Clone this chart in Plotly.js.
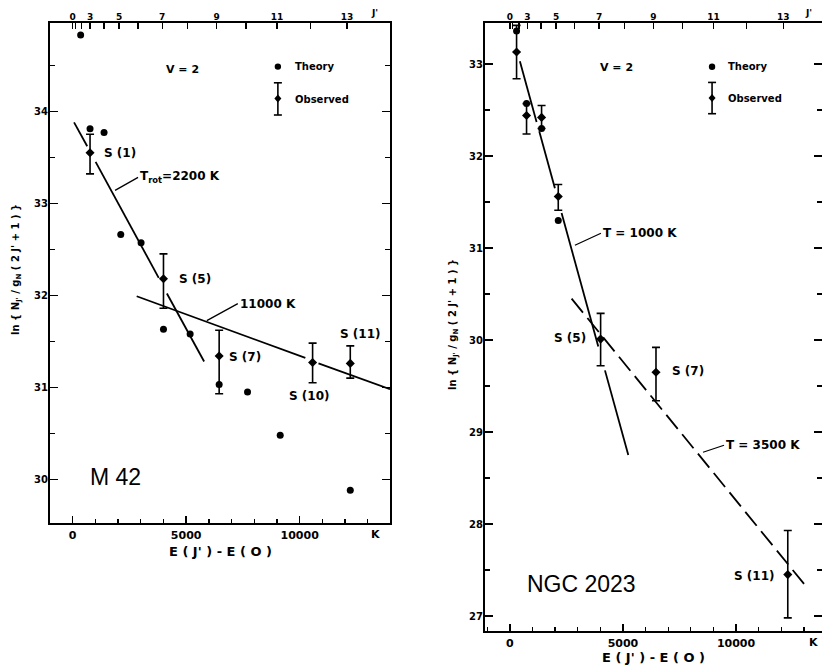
<!DOCTYPE html>
<html>
<head>
<meta charset="utf-8">
<script src="https://cdn.plot.ly/plotly-3.0.1.min.js"></script>
<style>html,body{margin:0;padding:0;background:#fff;}#chart{width:822px;height:666px;}</style>
</head>
<body>
<div id="chart"></div>
<script>
// ---------- M 42 (left panel) ----------
const m42TheoryE  = [350, 764, 1382, 2117, 3013, 4000, 5174, 6453, 7703, 9143, 12230];
const m42TheoryLn = [34.83, 33.81, 33.77, 32.66, 32.57, 31.63, 31.58, 31.03, 30.95, 30.48, 29.88];
const m42ObsE     = [764, 4000, 6453, 10570, 12230];
const m42ObsLn    = [33.55, 32.18, 31.34, 31.27, 31.26];
const m42ObsHi    = [33.75, 32.45, 31.62, 31.48, 31.45];
const m42ObsLo    = [33.32, 31.86, 30.93, 31.05, 31.10];
const m42ObsNames = ['S (1)', 'S (5)', 'S (7)', 'S (10)', 'S (11)'];
const m42Fit2200E  = [60, 640, null, 1010, 3790, null, 4150, 5790];
const m42Fit2200Ln = [33.88, 33.62, null, 33.45, 32.19, null, 32.02, 31.28];
const m42Fit11000E  = [2820, 10250, null, 10830, 13980];
const m42Fit11000Ln = [31.99, 31.32, null, 31.26, 30.98];

// ---------- NGC 2023 (right panel) ----------
const ngcTheoryE  = [296, 737, 1401, 2139];
const ngcTheoryLn = [33.36, 32.57, 32.30, 31.30];
const ngcObsE     = [296, 737, 1401, 2139, 4012, 6460, 12287];
const ngcObsLn    = [33.13, 32.44, 32.42, 31.56, 30.01, 29.65, 27.45];
const ngcObsHi    = [33.42, 32.57, 32.55, 31.69, 30.29, 29.92, 27.93];
const ngcObsLo    = [32.84, 32.24, 32.30, 31.41, 29.72, 29.34, 26.98];
const ngcFit1000E  = [442, 1180, null, 1298, 1991, null, 2286, 3909, null, 4204, 5236];
const ngcFit1000Ln = [33.03, 32.37, null, 32.27, 31.65, null, 31.38, 29.93, null, 29.67, 28.75];
const ngcFit3500E  = [2729, 13201];
const ngcFit3500Ln = [30.45, 27.29];

// ---------- top axis: J' levels ----------
const jLevels = [0, 1, 2, 3, 4, 5, 6, 7, 8, 9, 10, 11, 12, 13];
const jEnergy = [0, 120, 400, 770, 1380, 2040, 2870, 3945, 5060, 6345, 7635, 9000, 10470, 12090];
const jLabelled = [0, 3, 5, 7, 9, 11, 13];
const jText = jLevels.map(j => jLabelled.includes(j) ? String(j) : '');

const F = 'DejaVu Sans';
const BF = (s) => ({family: F, size: s, color: '#000', weight: 'bold'});
const W = 822, H = 666;

function errs(lo, y, hi) {
  return {type: 'data', symmetric: false,
    array: hi.map((h, i) => +(h - y[i]).toFixed(3)),
    arrayminus: lo.map((l, i) => +(y[i] - l).toFixed(3)),
    color: '#000', thickness: 1.6, width: 4};
}
// empty helper traces so that the overlaid tick axes get drawn
function holder(xs, xa, ya) {
  return {x: xs, y: xs.map(() => null), xaxis: xa, yaxis: ya, mode: 'markers', hoverinfo: 'skip', showlegend: false};
}

const traces = [
  {x: m42Fit2200E, y: m42Fit2200Ln, xaxis: 'x', yaxis: 'y', mode: 'lines', line: {color: '#000', width: 1.8}, connectgaps: false, hoverinfo: 'skip'},
  {x: m42Fit11000E, y: m42Fit11000Ln, xaxis: 'x', yaxis: 'y', mode: 'lines', line: {color: '#000', width: 1.8}, connectgaps: false, hoverinfo: 'skip'},
  {x: m42ObsE, y: m42ObsLn, xaxis: 'x', yaxis: 'y', mode: 'markers', marker: {symbol: 'diamond', size: 7, color: '#000'}, error_y: errs(m42ObsLo, m42ObsLn, m42ObsHi), text: m42ObsNames},
  {x: m42TheoryE, y: m42TheoryLn, xaxis: 'x', yaxis: 'y', mode: 'markers', marker: {symbol: 'circle', size: 7, color: '#000'}},

  {x: ngcFit1000E, y: ngcFit1000Ln, xaxis: 'x2', yaxis: 'y2', mode: 'lines', line: {color: '#000', width: 1.8}, connectgaps: false, hoverinfo: 'skip'},
  {x: ngcFit3500E, y: ngcFit3500Ln, xaxis: 'x2', yaxis: 'y2', mode: 'lines', line: {color: '#000', width: 1.8, dash: '18px,7px'}, hoverinfo: 'skip'},
  {x: ngcObsE, y: ngcObsLn, xaxis: 'x2', yaxis: 'y2', mode: 'markers', marker: {symbol: 'diamond', size: 7, color: '#000'}, error_y: errs(ngcObsLo, ngcObsLn, ngcObsHi)},
  {x: ngcTheoryE, y: ngcTheoryLn, xaxis: 'x2', yaxis: 'y2', mode: 'markers', marker: {symbol: 'circle', size: 7, color: '#000'}},

  holder(jEnergy, 'x3', 'y'), holder(jEnergy, 'x4', 'y2'),
  holder(m42ObsE, 'x5', 'y'), holder(ngcObsE, 'x6', 'y2'),
  holder(m42ObsE, 'x', 'y3'), holder(ngcObsE, 'x2', 'y4'),
];

const L = {l: 50, r: 390, t: 23, b: 523, x0: -1000, x1: 13980, y0: 29.525, y1: 34.96};
const R = {l: 485, r: 822, t: 23, b: 631, x0: -1100, x1: 13800, y0: 26.837, y1: 33.446};

function xAxis(P, anchor) {
  return {domain: [P.l / W, P.r / W], range: [P.x0, P.x1], anchor: anchor,
    tickmode: 'linear', tick0: 0, dtick: 5000, tickformat: 'd', tickangle: 0, ticks: 'inside', ticklen: 7, tickwidth: 1.5, tickcolor: '#000',
    showline: true, linewidth: 2, linecolor: '#000', mirror: true,
    showgrid: false, zeroline: false, automargin: false, tickfont: BF(11), ticklabelstandoff: 1};
}
function xMinor(P, over, anchor) {
  return {overlaying: over, side: 'bottom', anchor: anchor, range: [P.x0, P.x1],
    tickmode: 'linear', tick0: 0, dtick: 1000, ticks: 'inside', ticklen: 4, tickwidth: 1.3, tickcolor: '#000',
    showticklabels: false, showline: false, showgrid: false, zeroline: false, automargin: false};
}
function yAxis(P, anchor) {
  return {domain: [(H - P.b) / H, (H - P.t) / H], range: [P.y0, P.y1], anchor: anchor,
    tickmode: 'linear', tick0: 0, dtick: 1, tickangle: 0, ticks: 'inside', ticklen: 8, tickwidth: 1.5, tickcolor: '#000',
    showline: true, linewidth: 2, linecolor: '#000', mirror: 'ticks',
    showgrid: false, zeroline: false, automargin: false, tickfont: BF(10), ticklabelstandoff: -2};
}
function yMinor(P, over, anchor) {
  return {overlaying: over, side: 'left', anchor: anchor, range: [P.y0, P.y1],
    tickmode: 'linear', tick0: 0.5, dtick: 1, ticks: 'inside', ticklen: 5, tickwidth: 1.3, tickcolor: '#000',
    mirror: 'ticks', showticklabels: false, showline: false, showgrid: false, zeroline: false, automargin: false};
}
function topAxis(P, over, anchor) {
  return {overlaying: over, side: 'top', anchor: anchor, range: [P.x0, P.x1],
    tickmode: 'array', tickvals: jEnergy, ticktext: jText, tickangle: 0, ticks: 'inside', ticklen: 6, tickwidth: 1.4, tickcolor: '#000',
    showline: false, showgrid: false, zeroline: false, automargin: false, tickfont: BF(9), ticklabelstandoff: 0};
}

const ann = [];
function txt(xref, yref, x, y, t, size, xanchor, extra) {
  ann.push(Object.assign({xref: xref, yref: yref, x: x, y: y, text: t, showarrow: false,
    font: BF(size), xanchor: xanchor || 'left', yanchor: 'middle'}, extra || {}));
}
// left panel labels
txt('x', 'y', 4851, 34.45, 'V = 2', 11, 'center');
txt('x', 'y', 1279, 33.55, m42ObsNames[0], 12);
txt('x', 'y', 4586, 32.18, m42ObsNames[1], 12);
txt('x', 'y', 6791, 31.33, m42ObsNames[2], 12);
txt('x', 'y', 9437, 30.91, m42ObsNames[3], 12);
txt('x', 'y', 11686, 31.58, m42ObsNames[4], 12);
txt('x', 'y', 661, 30.03, 'M 42', 23, 'left', {font: {family: 'Liberation Sans', size: 23, color: '#000'}});
ann.push({xref: 'x', yref: 'y', x: 1867, y: 33.14, ax: 23, ay: -13, text: 'T<sub>rot</sub>=2200 K', showarrow: true, arrowhead: 0, arrowwidth: 1.3, arrowcolor: '#000', xanchor: 'left', font: BF(12)});
ann.push({xref: 'x', yref: 'y', x: 5909, y: 31.725, ax: 31, ay: -17, text: '11000 K', showarrow: true, arrowhead: 0, arrowwidth: 1.3, arrowcolor: '#000', xanchor: 'left', font: BF(12)});
txt('x', 'y', 9702, 34.49, 'Theory', 10);
txt('x', 'y', 9702, 34.13, 'Observed', 10);
txt('x', 'y domain', 13360, 0, 'K', 11, 'center', {yanchor: 'top', yshift: -3});
txt('x', 'y domain', 13318, 1, "J'", 9, 'center', {yanchor: 'bottom', yshift: 3});
// right panel labels
txt('x2', 'y2', 4735, 32.96, 'V = 2', 11, 'center');
txt('x2', 'y2', 3452, 30.02, 'S (5)', 12, 'right');
txt('x2', 'y2', 7080, 29.66, 'S (7)', 12);
txt('x2', 'y2', 11815, 27.43, 'S (11)', 12, 'right');
txt('x2', 'y2', 664, 27.35, 'NGC 2023', 23, 'left', {font: {family: 'Liberation Sans', size: 23, color: '#000'}});
ann.push({xref: 'x2', yref: 'y2', x: 2876, y: 31.03, ax: 26, ay: -12, text: 'T = 1000 K', showarrow: true, arrowhead: 0, arrowwidth: 1.3, arrowcolor: '#000', xanchor: 'left', font: BF(12)});
ann.push({xref: 'x2', yref: 'y2', x: 8540, y: 28.78, ax: 21, ay: -7, text: 'T = 3500 K', showarrow: true, arrowhead: 0, arrowwidth: 1.3, arrowcolor: '#000', xanchor: 'left', font: BF(12)});
txt('x2', 'y2', 9558, 32.97, 'Theory', 10);
txt('x2', 'y2', 9558, 32.63, 'Observed', 10);
txt('x2', 'y2 domain', 13408, 0, 'K', 11, 'center', {yanchor: 'top', yshift: -3});
txt('x2', 'y2 domain', 13186, 1, "J'", 9, 'center', {yanchor: 'bottom', yshift: 3});
// axis titles
const xTitle = "E ( J' ) - E ( O )";
const yTitle = "ln { N<sub>J'</sub> / g<sub>N</sub> ( 2 J' + 1 ) }";
txt('x domain', 'paper', 0.5, (H - 551) / H, xTitle, 13, 'center');
txt('x2 domain', 'paper', 0.5, (H - 657) / H, xTitle, 13, 'center');
txt('paper', 'paper', 16 / W, (H - 270) / H, yTitle, 10, 'center', {textangle: -90});
txt('paper', 'paper', 453 / W, (H - 325) / H, yTitle, 10, 'center', {textangle: -90});

// legend glyphs (layout shapes)
function legendGlyphs(xr, yr, x, yDot, yBarTop, yBarBot, yMid, pxX, pxY) {
  const cap = 4 * pxX;
  return [
    {type: 'circle', xref: xr, yref: yr, x0: x - 3.2 * pxX, x1: x + 3.2 * pxX, y0: yDot - 3.2 * pxY, y1: yDot + 3.2 * pxY, fillcolor: '#000', line: {width: 0}},
    {type: 'line', xref: xr, yref: yr, x0: x, x1: x, y0: yBarBot, y1: yBarTop, line: {color: '#000', width: 1.6}},
    {type: 'line', xref: xr, yref: yr, x0: x - cap, x1: x + cap, y0: yBarTop, y1: yBarTop, line: {color: '#000', width: 1.6}},
    {type: 'line', xref: xr, yref: yr, x0: x - cap, x1: x + cap, y0: yBarBot, y1: yBarBot, line: {color: '#000', width: 1.6}},
    {type: 'path', xref: xr, yref: yr, path: `M ${x} ${yMid + 4 * pxY} L ${x + 3.5 * pxX} ${yMid} L ${x} ${yMid - 4 * pxY} L ${x - 3.5 * pxX} ${yMid} Z`, fillcolor: '#000', line: {width: 0}},
  ];
}
const pxXL = (L.x1 - L.x0) / (L.r - L.l), pxYL = (L.y1 - L.y0) / (L.b - L.t);
const pxXR = (R.x1 - R.x0) / (R.r - R.l), pxYR = (R.y1 - R.y0) / (R.b - R.t);
const shapes = [].concat(
  legendGlyphs('x', 'y', 9040, 34.486, 34.31, 33.96, 34.14, pxXL, pxYL),
  legendGlyphs('x2', 'y2', 8939, 32.97, 32.80, 32.46, 32.63, pxXR, pxYR)
);

const layout = {
  width: W, height: H, margin: {l: 0, r: 0, t: 0, b: 0},
  paper_bgcolor: '#fff', plot_bgcolor: '#fff', showlegend: false,
  font: {family: F, color: '#000'},
  xaxis: xAxis(L, 'y'), yaxis: yAxis(L, 'x'),
  xaxis2: xAxis(R, 'y2'), yaxis2: yAxis(R, 'x2'),
  xaxis3: topAxis(L, 'x', 'y'), xaxis4: topAxis(R, 'x2', 'y2'),
  xaxis5: xMinor(L, 'x', 'y'), xaxis6: xMinor(R, 'x2', 'y2'),
  yaxis3: yMinor(L, 'y', 'x'), yaxis4: yMinor(R, 'y2', 'x2'),
  annotations: ann, shapes: shapes,
};
Plotly.newPlot('chart', traces, layout, {staticPlot: true, displayModeBar: false});
</script>
</body>
</html>
